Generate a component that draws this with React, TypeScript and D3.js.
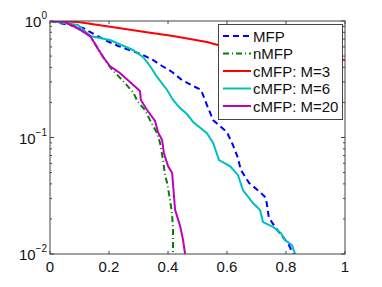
import { useEffect, useRef } from "react";
import * as d3 from "d3";

const xTicks = [0, 0.2, 0.4, 0.6, 0.8, 1];
const yTicks = [1, 0.1, 0.01];
const yTickExp = ["0", "\u22121", "\u22122"];

const mfpX = [0, 0.112, 0.142, 0.186, 0.231, 0.278, 0.315, 0.349, 0.38, 0.414, 0.447, 0.485, 0.512, 0.532, 0.553, 0.6, 0.62, 0.637, 0.647, 0.675, 0.712, 0.732, 0.742, 0.759, 0.783, 0.807, 0.824];
const mfpY = [1, 0.871, 0.789, 0.687, 0.61, 0.553, 0.511, 0.463, 0.411, 0.365, 0.312, 0.277, 0.256, 0.19, 0.141, 0.111, 0.0862, 0.0667, 0.0526, 0.0407, 0.034, 0.0303, 0.0204, 0.0177, 0.0146, 0.0124, 0.01];

const nmfpX = [0, 0.051, 0.092, 0.136, 0.159, 0.18, 0.203, 0.244, 0.281, 0.298, 0.322, 0.339, 0.363, 0.373, 0.383, 0.39, 0.397, 0.407, 0.414, 0.417, 0.417];
const nmfpY = [1, 0.98, 0.871, 0.743, 0.598, 0.491, 0.403, 0.312, 0.246, 0.202, 0.172, 0.141, 0.109, 0.0897, 0.0641, 0.0477, 0.0407, 0.0291, 0.0216, 0.0161, 0.01];

const cmfp3X = [0, 0.095, 0.21, 0.322, 0.417, 0.532, 0.569, 1];
const cmfp3Y = [1, 0.98, 0.888, 0.805, 0.743, 0.66, 0.622, 0.463];

const cmfp6X = [0, 0.095, 0.136, 0.203, 0.281, 0.315, 0.339, 0.363, 0.397, 0.417, 0.441, 0.464, 0.485, 0.532, 0.553, 0.573, 0.61, 0.637, 0.654, 0.688, 0.712, 0.722, 0.756, 0.783, 0.797, 0.82, 0.831];
const cmfp6Y = [1, 0.924, 0.743, 0.687, 0.564, 0.491, 0.411, 0.331, 0.256, 0.21, 0.179, 0.159, 0.136, 0.109, 0.0897, 0.0641, 0.0569, 0.0477, 0.0354, 0.0274, 0.0239, 0.0188, 0.0171, 0.0151, 0.0132, 0.0119, 0.01];

const cmfp20X = [0, 0.051, 0.092, 0.136, 0.159, 0.18, 0.203, 0.237, 0.271, 0.305, 0.308, 0.329, 0.356, 0.366, 0.38, 0.386, 0.4, 0.414, 0.42, 0.424, 0.441, 0.451, 0.458];
const cmfp20Y = [1, 0.98, 0.871, 0.743, 0.598, 0.491, 0.411, 0.358, 0.3, 0.251, 0.21, 0.172, 0.139, 0.111, 0.0952, 0.0736, 0.0569, 0.0496, 0.0321, 0.0239, 0.0174, 0.0132, 0.01];

const series = [
  { name: "MFP", xs: mfpX, ys: mfpY, color: "#0000ff", dash: "6,4" },
  { name: "nMFP", xs: nmfpX, ys: nmfpY, color: "#008000", dash: "6,3,1,3" },
  { name: "cMFP: M=3", xs: cmfp3X, ys: cmfp3Y, color: "#ff0000", dash: "" },
  { name: "cMFP: M=6", xs: cmfp6X, ys: cmfp6Y, color: "#00bfbf", dash: "" },
  { name: "cMFP: M=20", xs: cmfp20X, ys: cmfp20Y, color: "#bf00bf", dash: "" },
];

const App = () => {
  const svgRef = useRef<SVGSVGElement | null>(null);

  useEffect(() => {
    const svg = d3.select(svgRef.current);
    svg.selectAll("*").remove();

    const left = 50, right = 345, top = 21, bottom = 254;
    const x = d3.scaleLinear().domain([0, 1]).range([left, right]);
    const y = d3.scaleLog().domain([0.01, 1]).range([bottom, top]);
    const font = "'Liberation Sans', Arial, sans-serif";
    const axisColor = "#444";

    const g = svg.append("g");

    svg
      .append("defs")
      .append("clipPath")
      .attr("id", "plotclip")
      .append("rect")
      .attr("x", left)
      .attr("y", top)
      .attr("width", right - left)
      .attr("height", bottom - top);

    // x ticks, inward on both sides
    xTicks.forEach((t) => {
      g.append("line").attr("x1", x(t)).attr("x2", x(t)).attr("y1", bottom).attr("y2", bottom - 3).attr("stroke", axisColor);
      g.append("line").attr("x1", x(t)).attr("x2", x(t)).attr("y1", top).attr("y2", top + 3).attr("stroke", axisColor);
      g.append("text")
        .attr("x", x(t))
        .attr("y", 272)
        .attr("text-anchor", "middle")
        .attr("font-family", font)
        .attr("font-size", 15)
        .attr("fill", "#111")
        .text(String(t));
    });

    // y ticks major + minor
    [0.01, 0.1].forEach((dec) => {
      for (let k = 2; k <= 9; k++) {
        const v = dec * k;
        g.append("line").attr("x1", left).attr("x2", left + 2).attr("y1", y(v)).attr("y2", y(v)).attr("stroke", axisColor);
        g.append("line").attr("x1", right).attr("x2", right - 2).attr("y1", y(v)).attr("y2", y(v)).attr("stroke", axisColor);
      }
    });
    yTicks.forEach((t, i) => {
      g.append("line").attr("x1", left).attr("x2", left + 4).attr("y1", y(t)).attr("y2", y(t)).attr("stroke", axisColor);
      g.append("line").attr("x1", right).attr("x2", right - 4).attr("y1", y(t)).attr("y2", y(t)).attr("stroke", axisColor);
      const txt = g
        .append("text")
        .attr("x", left - 3)
        .attr("y", y(t) + 6)
        .attr("text-anchor", "end")
        .attr("font-family", font)
        .attr("font-size", 15)
        .attr("fill", "#111");
      txt.append("tspan").text("10");
      txt.append("tspan").attr("dy", -8).attr("font-size", 10).text(yTickExp[i]);
    });

    // series
    const plot = g.append("g").attr("clip-path", "url(#plotclip)");
    series.forEach((s) => {
      const pts = s.xs.map((v, i) => [v, s.ys[i]] as [number, number]);
      const line = d3
        .line<[number, number]>()
        .x((d) => x(d[0]))
        .y((d) => y(d[1]));
      plot
        .append("path")
        .attr("d", line(pts))
        .attr("fill", "none")
        .attr("stroke", s.color)
        .attr("stroke-width", 2)
        .attr("stroke-dasharray", s.dash || null);
    });

    // box
    g.append("rect")
      .attr("x", left)
      .attr("y", top)
      .attr("width", right - left)
      .attr("height", bottom - top)
      .attr("fill", "none")
      .attr("stroke", axisColor);

    // legend
    const lg = g.append("g");
    lg.append("rect")
      .attr("x", 218.5)
      .attr("y", 24.5)
      .attr("width", 124)
      .attr("height", 95)
      .attr("fill", "#fff")
      .attr("stroke", axisColor);
    series.forEach((s, i) => {
      const ly = 36 + i * 17.5;
      lg.append("line")
        .attr("x1", 223)
        .attr("x2", 251)
        .attr("y1", ly)
        .attr("y2", ly)
        .attr("stroke", s.color)
        .attr("stroke-width", 2)
        .attr("stroke-dasharray", s.dash || null);
      lg.append("text")
        .attr("x", 253)
        .attr("y", ly + 5.5)
        .attr("font-family", font)
        .attr("font-size", 15)
        .attr("fill", "#111")
        .text(s.name);
    });
  });

  return (
    <svg
      ref={svgRef}
      width={382}
      height={287}
      style={{ position: "absolute", left: 0, top: 0, background: "#fff" }}
    />
  );
};

export default App;
